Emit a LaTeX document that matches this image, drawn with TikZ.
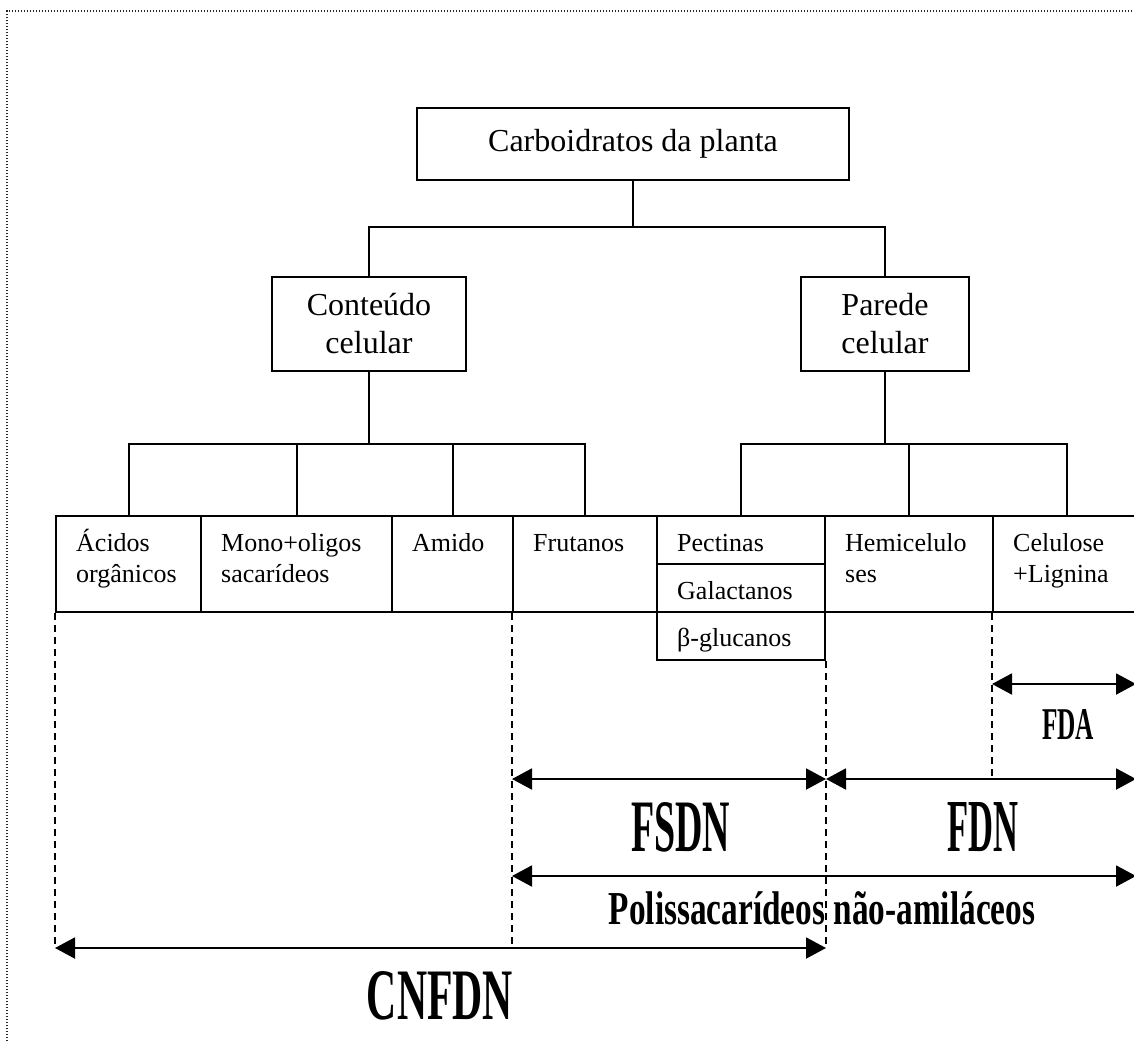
\documentclass[tikz,border=0pt]{standalone}
\usepackage{fontspec}
\usepackage{graphicx}
\setmainfont{Liberation Serif}
\usetikzlibrary{arrows.meta}
\begin{document}
\begin{tikzpicture}[x=1pt,y=-1pt,
  box/.style={draw, line width=2pt, inner sep=0pt},
  conn/.style={line width=2pt},
  guide/.style={line width=1.5pt, dash pattern=on 7pt off 5pt},
  dim/.style={line width=2pt, {Triangle[length=20pt,width=21pt]}-{Triangle[length=20pt,width=21pt]}},
  lbl/.style={anchor=base west, inner sep=0pt, font=\fontsize{26}{31}\selectfont},
  big/.style={font=\fontsize{32}{38}\selectfont, align=center},
  border/.style={line width=1.3pt, black!85, dash pattern=on 1.3pt off 1.7pt},
  caption/.style={anchor=south, inner sep=0pt}
]
\useasboundingbox (0,0) rectangle (1134,1041);
% frame
\draw[border] (7,1041) -- (7,11) -- (1136,11);

% top levels
\node[box, big, minimum width=432pt, minimum height=72pt] (top) at (633,144) {Carboidratos da planta};
\node[box, big, minimum width=194pt, minimum height=94pt] (cont) at (369,324) {Conteúdo\\celular};
\node[box, big, minimum width=168pt, minimum height=94pt] (par) at (885,324) {Parede\\celular};

% bottom row boxes
\node[box, minimum width=145pt, minimum height=96pt] (acid) at (128.5,564) {};
\node[box, minimum width=191pt, minimum height=96pt] (mono) at (296.5,564) {};
\node[box, minimum width=121pt, minimum height=96pt] (amido) at (452.5,564) {};
\node[box, minimum width=144pt, minimum height=96pt] (frut) at (585,564) {};
\node[box, minimum width=168pt, minimum height=48pt] (pect) at (741,540) {};
\node[box, minimum width=168pt, minimum height=48pt] (gal) at (741,588) {};
\node[box, minimum width=168pt, minimum height=48pt] (beta) at (741,636) {};
\node[box, minimum width=168pt, minimum height=96pt] (hemi) at (909,564) {};
\node[box, minimum width=147pt, minimum height=96pt] (celu) at (1066.5,564) {};

% labels of bottom row
\node[lbl] (tA1) at (76,551) {Ácidos};
\node[lbl] (tA2) at (76,582) {orgânicos};
\node[lbl] (tM1) at (221,551) {Mono+oligos};
\node[lbl] (tM2) at (221,582) {sacarídeos};
\node[lbl] (tAm) at (412,551) {Amido};
\node[lbl] (tF) at (533,551) {Frutanos};
\node[lbl] (tP) at (677,551) {Pectinas};
\node[lbl] (tG) at (677,599) {Galactanos};
\node[lbl] (tB) at (677,646) {β-glucanos};
\node[lbl] (tH1) at (845,551) {Hemicelulo};
\node[lbl] (tH2) at (845,582) {ses};
\node[lbl] (tC1) at (1013,551) {Celulose};
\node[lbl] (tC2) at (1013,582) {+Lignina};

% tree connectors
\coordinate (j0) at (633,227);
\coordinate (j1) at (0,444);
\draw[conn] (top.south) -- (j0);
\draw[conn] (cont.north) -- (cont.north |- j0) -- (par.north |- j0) -- (par.north);
\draw[conn] (cont.south) -- (cont.south |- j1);
\draw[conn] (acid.north) -- (acid.north |- j1) -- (frut.north |- j1) -- (frut.north);
\draw[conn] (mono.north) -- (mono.north |- j1);
\draw[conn] (amido.north) -- (amido.north |- j1);
\draw[conn] (par.south) -- (par.south |- j1);
\draw[conn] (pect.north) -- (pect.north |- j1) -- (celu.north |- j1) -- (celu.north);
\draw[conn] (hemi.north) -- (hemi.north |- j1);

% reference levels
\coordinate (yFDA) at (0,684);
\coordinate (yFSDN) at (0,779);
\coordinate (yPOL) at (0,876);
\coordinate (yCN) at (0,948);
\coordinate (yEnd) at (0,945);
\coordinate (xR) at (1136,0);

% dashed guides
\draw[guide] (acid.south west) -- (acid.south west |- yEnd);
\draw[guide] (frut.south west) -- (frut.south west |- yEnd);
\draw[guide] (beta.south east) -- (beta.south east |- yEnd);
\draw[guide] (celu.south west) -- (celu.south west |- yFSDN);

% dimension arrows
\draw[dim] (celu.south west |- yFDA) -- (xR |- yFDA);
\draw[dim] (frut.south west |- yFSDN) -- (beta.south east |- yFSDN);
\draw[dim] (beta.south east |- yFSDN) -- (xR |- yFSDN);
\draw[dim] (frut.south west |- yPOL) -- (xR |- yPOL);
\draw[dim] (acid.south west |- yCN) -- (beta.south east |- yCN);

% captions
\node[caption] (fda) at (1068,740) {\resizebox{52pt}{30pt}{\bfseries FDA}};
\node[caption] (fsdn) at (680.5,852) {\resizebox{99pt}{49pt}{\bfseries FSDN}};
\node[caption] (fdn) at (982.5,852) {\resizebox{71pt}{49pt}{\bfseries FDN}};
\node[caption] (cnfdn) at (440,1020) {\resizebox{146pt}{48pt}{\bfseries CNFDN}};
\node[anchor=base, inner sep=0pt] (pol) at (822,924) {\scalebox{0.74}[1.05]{\fontsize{45}{45}\selectfont\bfseries Polissacarídeos não-amiláceos}};
\end{tikzpicture}
\end{document}
